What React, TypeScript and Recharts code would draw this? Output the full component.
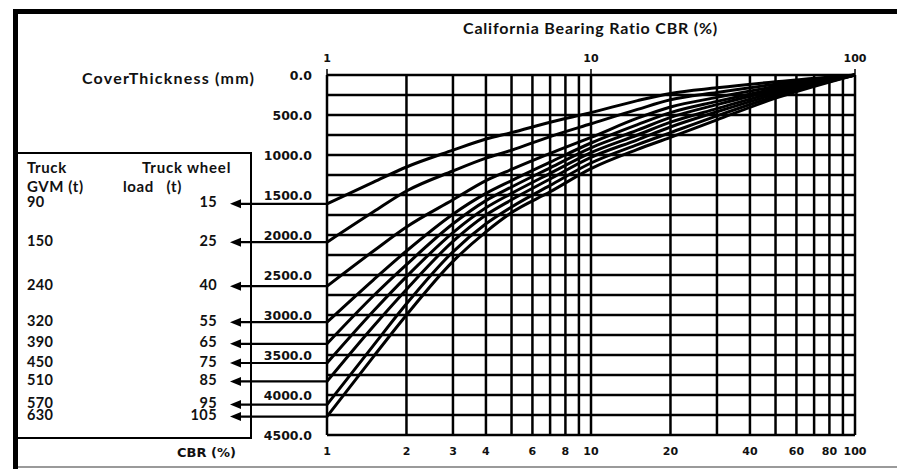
import React from 'react';
import { LineChart, Line, XAxis, YAxis, CartesianGrid, ReferenceLine } from 'recharts';

// CBR sample points
const cbrPoints = [1, 1.5, 2, 3, 4, 5, 7, 10, 15, 20, 30, 50, 100];

// truck table
const truckGvm = [90, 150, 240, 320, 390, 450, 510, 570, 630];
const wheelLoad = [15, 25, 40, 55, 65, 75, 85, 95, 105];

// cover thickness (mm) per wheel load, at each CBR point
const cover15 = [1610, 1340, 1150, 940, 800, 720, 590, 470, 320, 230, 160, 85, 0];
const cover25 = [2090, 1710, 1450, 1200, 1040, 940, 770, 610, 430, 310, 220, 115, 0];
const cover40 = [2640, 2200, 1900, 1560, 1320, 1180, 980, 780, 540, 400, 280, 145, 0];
const cover55 = [3090, 2560, 2200, 1740, 1480, 1320, 1090, 850, 620, 470, 330, 170, 0];
const cover65 = [3360, 2760, 2370, 1860, 1570, 1400, 1160, 910, 690, 530, 370, 190, 0];
const cover75 = [3600, 2950, 2520, 1970, 1660, 1480, 1230, 970, 750, 590, 420, 215, 0];
const cover85 = [3830, 3140, 2680, 2080, 1750, 1560, 1300, 1030, 810, 650, 460, 240, 0];
const cover95 = [4120, 3380, 2860, 2210, 1860, 1650, 1380, 1100, 870, 720, 510, 265, 0];
const cover105 = [4270, 3520, 3000, 2330, 1960, 1720, 1460, 1170, 930, 780, 560, 290, 0];

const curves = [cover15, cover25, cover40, cover55, cover65, cover75, cover85, cover95, cover105];

// axes
const gridX = [1, 2, 3, 4, 5, 6, 7, 8, 9, 10, 20, 30, 40, 50, 60, 70, 80, 90, 100];
const labelX = [1, 2, 3, 4, 6, 8, 10, 20, 40, 60, 80, 100];
const topX = [1, 10, 100];
const gridY = [0, 250, 500, 750, 1000, 1250, 1500, 1750, 2000, 2250, 2500, 2750, 3000, 3250, 3500, 3750, 4000, 4250, 4500];

const chartData = cbrPoints.map((x, i) => {
  const row: { [key: string]: number } = { cbr: x };
  curves.forEach((c, k) => {
    row['c' + k] = c[i];
  });
  return row;
});

const numFont = '"DejaVu Sans", Verdana, sans-serif';
const textFont = 'Lato, "Open Sans", sans-serif';

const BottomTick = (props: any) => {
  const { x, y, payload } = props;
  if (!labelX.includes(payload.value)) return <g />;
  return (
    <text x={x} y={y} dy="0.71em" textAnchor="middle" fontFamily={numFont} fontWeight="bold" fontSize={11} fill="#111">
      {payload.value}
    </text>
  );
};

const LeftTick = (props: any) => {
  const { x, y, payload } = props;
  if (payload.value % 500 !== 0) return <g />;
  return (
    <text x={x} y={y} textAnchor="end" dominantBaseline="central" fontFamily={numFont} fontWeight="bold" fontSize={12.5} fill="#111">
      {payload.value.toFixed(1)}
    </text>
  );
};

const arrowShape = (k: number) => (props: any) => {
  const xl = Math.min(props.x1, props.x2);
  const y = props.y1;
  const tip = xl - 97;
  return (
    <g>
      <line x1={xl} y1={y} x2={tip + 6} y2={y} stroke="#000" strokeWidth={2.2} />
      <polygon points={`${tip},${y} ${tip + 11},${y - 4.5} ${tip + 11},${y + 4.5}`} fill="#000" />
      <text x={tip - 13} y={y - 2} textAnchor="end" dominantBaseline="central" fontFamily={textFont} fontWeight="bold" fontSize={14.5} letterSpacing={0.4} fill="#111">
        {wheelLoad[k]}
      </text>
      <text x={xl - 300} y={y - 2} textAnchor="start" dominantBaseline="central" fontFamily={textFont} fontWeight="bold" fontSize={14.5} letterSpacing={0.4} fill="#111">
        {truckGvm[k]}
      </text>
    </g>
  );
};

const label = (text: string, left: number, top: number, font: string, size: number, spacing = 0) => (
  <div
    style={{
      position: 'absolute',
      left,
      top,
      fontFamily: font,
      fontWeight: 'bold',
      fontSize: size,
      letterSpacing: spacing,
      lineHeight: '18px',
      whiteSpace: 'pre',
      color: '#111',
    }}
  >
    {text}
  </div>
);

const App: React.FC = () => {
  return (
    <div style={{ position: 'absolute', left: 0, top: 0, width: 897, height: 469, background: '#fff', overflow: 'hidden' }}>
      <div style={{ position: 'absolute', left: 0, top: 0 }}>
        <LineChart width={897} height={469} data={chartData} margin={{ top: 45, right: 42, bottom: 4, left: 247 }}>
          <CartesianGrid xAxisId="b" yAxisId="y" stroke="#000" strokeWidth={2.5} />
          <XAxis
            xAxisId="b"
            dataKey="cbr"
            type="number"
            scale="log"
            domain={[1, 100]}
            ticks={gridX}
            interval={0}
            height={30}
            tickMargin={6}
            tickLine={false}
            axisLine={false}
            tick={BottomTick}
          />
          <XAxis
            xAxisId="t"
            dataKey="cbr"
            orientation="top"
            type="number"
            scale="log"
            domain={[1, 100]}
            ticks={topX}
            interval={0}
            height={30}
            tickMargin={7}
            tickLine={{ stroke: '#000', strokeWidth: 1.5 }}
            axisLine={false}
            tick={{ fontFamily: numFont, fontWeight: 'bold', fontSize: 11, fill: '#111' }}
          />
          <YAxis
            yAxisId="y"
            type="number"
            domain={[0, 4500]}
            reversed
            ticks={gridY}
            interval={0}
            width={80}
            tickMargin={9}
            tickLine={false}
            axisLine={false}
            tick={LeftTick}
          />
          {curves.map((_, k) => (
            <Line
              key={k}
              xAxisId="b"
              yAxisId="y"
              type="monotone"
              dataKey={'c' + k}
              stroke="#000"
              strokeWidth={3}
              dot={false}
              isAnimationActive={false}
            />
          ))}
          {curves.map((c, k) => (
            <ReferenceLine key={'a' + k} xAxisId="b" yAxisId="y" y={c[0]} shape={arrowShape(k)} />
          ))}
        </LineChart>
      </div>
      {label('California Bearing Ratio CBR (%)', 463, 19, textFont, 16, 0.8)}
      {label('CoverThickness (mm)', 82, 69, textFont, 16, 1.2)}
      {label('CBR (%)', 177, 444, numFont, 13)}
      {label('Truck', 27, 158, textFont, 15, 0.6)}
      {label('GVM (t)', 27, 177, textFont, 15, 0.6)}
      {label('Truck wheel', 142, 158, textFont, 15, 0.8)}
      {label('load   (t)', 123, 177, textFont, 15, 0.6)}
      <div style={{ position: 'absolute', left: 18, top: 152, width: 232, height: 283, borderTop: '2px solid #000', borderRight: '2px solid #000', borderBottom: '2px solid #000' }} />
      <div style={{ position: 'absolute', left: 13, top: 9, width: 884, height: 5, background: '#000' }} />
      <div style={{ position: 'absolute', left: 13, top: 9, width: 5, height: 460, background: '#000' }} />
      <div style={{ position: 'absolute', left: 18, top: 466, width: 879, height: 2, background: '#9a9a9a' }} />
    </div>
  );
};

export default App;
